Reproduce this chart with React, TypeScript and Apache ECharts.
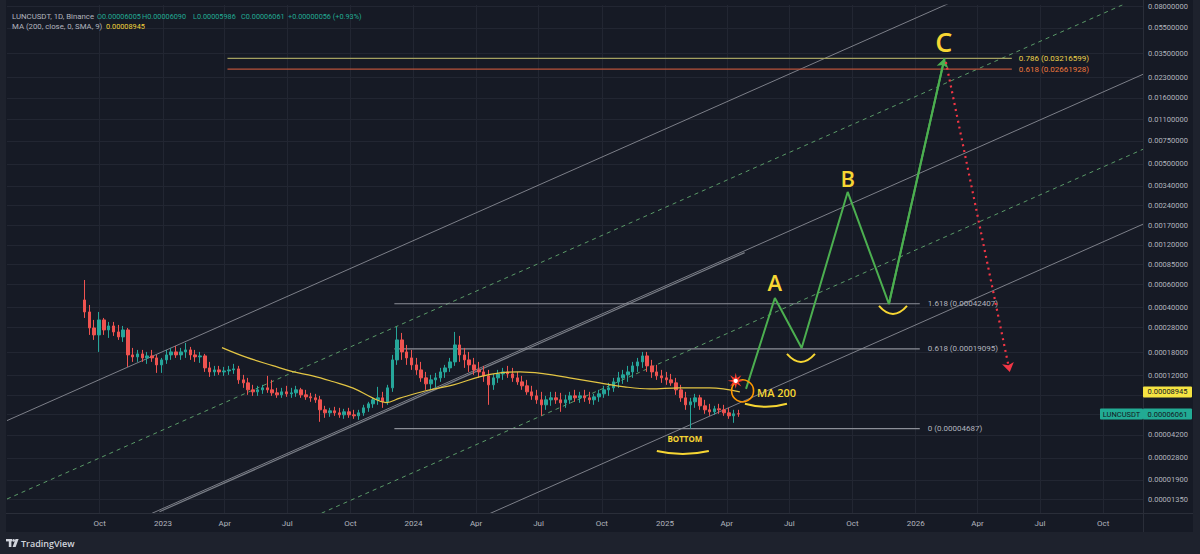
import { useEffect, useRef } from 'react';
import * as echarts from 'echarts';

// ---------- data ----------
const T = (s: string) => Date.parse(s + 'T00:00:00Z');
const DAY = 86400000;

// Weekly candles (one per 7 days from FIRST_CANDLE), prices in 1e-8 USDT: [open, close, low, high]
const UNIT = 1e-8;
const FIRST_CANDLE = '2022-09-09';
const CANDLE_STEP_DAYS = 7;
const weeklyCandles: number[][] = [
  [45330, 36692, 33006, 64480], [36692, 27676, 24470, 41510], [27676, 24470, 22400, 31870], [24470, 31870, 18129, 36692],
  [31870, 26720, 24470, 33006], [26720, 28670, 23209, 30765], [28670, 25794, 24042, 30765], [25794, 23622, 22400, 29180],
  [23622, 26720, 21624, 28670], [26720, 17200, 13920, 27676], [17200, 16604, 15204, 19453], [16604, 17500, 15204, 18780],
  [17500, 16313, 15204, 18780], [16313, 16899, 14677, 18129], [16899, 16313, 15204, 18780], [16313, 14420, 12520, 17200],
  [14420, 15750, 12520, 16313], [15750, 17200, 14677, 18780], [17200, 18129, 15750, 19453], [18129, 17200, 16313, 20151],
  [17200, 18129, 15750, 19453], [18129, 18780, 16313, 21245], [18780, 17200, 15750, 19799], [17200, 16604, 15204, 18780],
  [16604, 16899, 14938, 18129], [16899, 13677, 12742, 17500], [13677, 12742, 11671, 15204], [12742, 13200, 11879, 14168],
  [13200, 12742, 12090, 14168], [12742, 12969, 11879, 13920], [12969, 13200, 12090, 14168], [13200, 13438, 12301, 14677],
  [13438, 11070, 10316, 14168], [11070, 10499, 9617, 12090], [10499, 9283, 8500, 11467], [9283, 8961, 8351, 10140],
  [8961, 9283, 8351, 9963], [9283, 9617, 8650, 10140], [9617, 9283, 8804, 11879], [9283, 8804, 8351, 11070],
  [8804, 8500, 8062, 9617], [8500, 8961, 8062, 9617], [8961, 8650, 8205, 9963], [8650, 8804, 8062, 9617],
  [8804, 9283, 8205, 9963], [9283, 8500, 8062, 9617], [8500, 8205, 7783, 9283], [8205, 8062, 7513, 8804],
  [8062, 7783, 7382, 8650], [7783, 6526, 5281, 8351], [6526, 6190, 5667, 7002], [6190, 6412, 5768, 6759],
  [6412, 6190, 5870, 6880], [6190, 5975, 5667, 6759], [5975, 6300, 5568, 6641], [6300, 5975, 5667, 6759],
  [5975, 5870, 5568, 6526], [5870, 6190, 5471, 6526], [6190, 6759, 5870, 7127], [6759, 7253, 6300, 7513],
  [7253, 7783, 6759, 8062], [7783, 8062, 7127, 9788], [8062, 7513, 6759, 8961], [7513, 9617, 7127, 10140],
  [9617, 15750, 8961, 17200], [15750, 22400, 14420, 28169], [22400, 18129, 15750, 25343], [18129, 16313, 14420, 20510],
  [16313, 14420, 13200, 18780], [14420, 13200, 12090, 16313], [13200, 11467, 10686, 15204], [11467, 10316, 9283, 12742],
  [10316, 11070, 9283, 12090], [11070, 11467, 9617, 12520], [11467, 12742, 10686, 13677], [12742, 13677, 11467, 14420],
  [13677, 15204, 12742, 16313], [15204, 20510, 14168, 25794], [20510, 17200, 15204, 24042], [17200, 15750, 13677, 19453],
  [15750, 14420, 12742, 18129], [14420, 13200, 12090, 16313], [13200, 12742, 11467, 15204], [12742, 11879, 10686, 14168],
  [11879, 10140, 7127, 13200], [10140, 11467, 9283, 12301], [11467, 12301, 10499, 13200], [12301, 12742, 11070, 13677],
  [12742, 12301, 11467, 14168], [12301, 11467, 10686, 13677], [11467, 10686, 10140, 12742], [10686, 9963, 9283, 11879],
  [9963, 8961, 8500, 11070], [8961, 8351, 7783, 9963], [8351, 7783, 7253, 9283], [7783, 7127, 5870, 8961],
  [7127, 7783, 6526, 8351], [7783, 8062, 7002, 8961], [8062, 7783, 7253, 8961], [7783, 7382, 6300, 8804],
  [7382, 7783, 6759, 8500], [7783, 8351, 7253, 8961], [8351, 8062, 7513, 9283], [8062, 8351, 7382, 8961],
  [8351, 8062, 7513, 9283], [8062, 7783, 7253, 8961], [7783, 8205, 7127, 8650], [8205, 8650, 7513, 9283],
  [8650, 9283, 8062, 9963], [9283, 9617, 8351, 10499], [9617, 10686, 8961, 11467], [10686, 11467, 9617, 12742],
  [11467, 12090, 10316, 13200], [12090, 12742, 10686, 14168], [12742, 14168, 11467, 15204], [14168, 15204, 12742, 16313],
  [15204, 16899, 13677, 18129], [16899, 14168, 12742, 18129], [14168, 12742, 11467, 15750], [12742, 11879, 11070, 14420],
  [11879, 11467, 10499, 13200], [11467, 11070, 10140, 12742], [11070, 10499, 9963, 12301], [10499, 9283, 8500, 11467],
  [9283, 8062, 7513, 10140], [8062, 7127, 6526, 8961], [7127, 7513, 4687, 8062], [7513, 8062, 6759, 8650],
  [8062, 7002, 6526, 8500], [7002, 6526, 6081, 7783], [6526, 6300, 5870, 7253], [6300, 6641, 5975, 7002],
  [6641, 6526, 6081, 7253], [6526, 6190, 5870, 7127], [6190, 5870, 5568, 6759], [5870, 6081, 5189, 6526],
  [6081, 6061, 5768, 6526],
];

const LAST_PRICE = 0.00006061;
const MA_LAST = 0.00008945;

// MA(200) line
const maDates = ['2023-03-28', '2023-05-02', '2023-06-10', '2023-07-09', '2023-08-07', '2023-09-05', '2023-10-05',
  '2023-11-03', '2023-11-22', '2023-12-12', '2024-01-20', '2024-02-28', '2024-04-07', '2024-05-06', '2024-06-04',
  '2024-07-10', '2024-08-15', '2024-09-28', '2024-11-03', '2024-12-10', '2025-01-22', '2025-03-07', '2025-04-20'];
const maValues = [0.0001955, 0.0001652, 0.0001424, 0.0001281, 0.0001188, 0.0001075, 0.00009565, 0.0000802,
  0.0000742, 0.0000802, 0.0000917, 0.0001014, 0.0001173, 0.0001252, 0.0001274, 0.0001230, 0.0001147, 0.0001050,
  0.0000979, 0.0000945, 0.0000962, 0.0000962, 0.00008945];

// axes
const X_MIN = '2022-05-19';
const X_MAX = '2026-11-28';
const Y_MIN = 0.00001057;
const Y_MAX = 0.0825;
const xTicks = ['2022-10-01', '2023-01-01', '2023-04-01', '2023-07-01', '2023-10-01', '2024-01-01', '2024-04-01',
  '2024-07-01', '2024-10-01', '2025-01-01', '2025-04-01', '2025-07-01', '2025-10-01', '2026-01-01', '2026-04-01',
  '2026-07-01', '2026-10-01'];
const yTickLabels = [0.08, 0.055, 0.035, 0.023, 0.016, 0.011, 0.0075, 0.005, 0.0034, 0.0024, 0.0017, 0.0012,
  0.00085, 0.0006, 0.0004, 0.00028, 0.00018, 0.00012, 0.000042, 0.000028, 0.000019, 0.0000135];
const yGridValues = [...yTickLabels, 0.000085, 0.00006];

// channel (parallel lines) at the chart's left and right edges
const channelDates = [X_MIN, X_MAX];
const channelSolid = [[0.00005395, 0.3871], [0.000003386, 0.02429], [0.0000002404, 0.001726]];
const channelDashed = [[0.00001353, 0.09707], [0.0000009016, 0.006471]];
const trendDates = ['2022-12-27', '2025-04-27'];
const trendPrices = [0.00001081, 0.001045];

// fibonacci levels
const lowerFibDates = ['2023-12-04', '2026-01-07'];
const lowerFibLevels = [0.00004687, 0.00019095, 0.00042407];
const lowerFibNames = ['0', '0.618', '1.618'];
const upperFibDates = ['2023-04-05', '2026-05-21'];
const upperFibLevels = [0.03216599, 0.02661928];
const upperFibNames = ['0.786', '0.618'];

// projected path A-B-C and the red drop
const greenPathDates = ['2025-04-29', '2025-06-10', '2025-07-19', '2025-09-24', '2025-11-23', '2026-02-12'];
const greenPathPrices = [0.00009449, 0.00046948, 0.00019453, 0.003047, 0.00042241, 0.0322];
const redDropDates = ['2026-02-14', '2026-05-18'];
const redDropPrices = [0.0302, 0.0001274];

// hand-drawn annotations
const annotationDates = ['2025-07-18', '2025-11-29', '2025-05-28', '2025-01-27', '2025-04-24', '2025-04-14',
  '2025-05-15', '2025-01-30', '2025-06-10', '2025-09-24', '2026-02-11'];
const annotationPrices = [0.000175, 0.00040784, 0.00007253, 0.00003155, 0.00009121, 0.00010876, 0.00008804,
  0.00003969, 0.0006223, 0.003899, 0.04296];
const annotationKinds = ['dip', 'dip', 'underMA', 'underBottom', 'circle', 'star', 'textMA', 'textBottom', 'wave', 'wave', 'waveBig'];
const annotationTexts = ['', '', '', '', '', '', 'MA 200', 'BOTTOM', 'A', 'B', 'C'];

// ---------- styling ----------
const PANE = '#161a25';
const OUTER = '#1e222d';
const GRID = '#222632';
const AXIS_TXT = '#b2b5be';
const YELLOW = '#f7d633';
const FONT = 'Roboto';
const MONTHS = ['Jan', 'Feb', 'Mar', 'Apr', 'May', 'Jun', 'Jul', 'Aug', 'Sep', 'Oct', 'Nov', 'Dec'];

function buildOption() {
  const t0 = T(FIRST_CANDLE);
  const candles = weeklyCandles.map((c, i) => [t0 + i * CANDLE_STEP_DAYS * DAY, c[0] * UNIT, c[1] * UNIT, c[2] * UNIT, c[3] * UNIT]);
  const series: any[] = [];

  channelSolid.forEach((pair) => {
    series.push({
      type: 'line', silent: true, showSymbol: false, z: 1,
      data: channelDates.map((d, i) => [T(d), pair[i]]),
      lineStyle: { color: '#8e919a', width: 1, opacity: 0.85 },
    });
  });
  series.push({
    type: 'line', silent: true, showSymbol: false, z: 1,
    data: trendDates.map((d, i) => [T(d), trendPrices[i]]),
    lineStyle: { color: '#9a9da6', width: 1.2, opacity: 0.75 },
  });
  channelDashed.forEach((pair) => {
    series.push({
      type: 'line', silent: true, showSymbol: false, z: 1,
      data: channelDates.map((d, i) => [T(d), pair[i]]),
      lineStyle: { color: '#5a9a68', width: 1, type: [4, 4] },
    });
  });
  lowerFibLevels.forEach((lv, k) => {
    series.push({
      type: 'line', silent: true, showSymbol: false, z: 2,
      data: lowerFibDates.map((d) => [T(d), lv]),
      lineStyle: { color: '#8c8f98', width: 1.2 },
      endLabel: {
        show: true, formatter: `${lowerFibNames[k]} (${lv.toFixed(8)})`, color: '#b2b5be',
        fontSize: 8, fontFamily: FONT, distance: 8,
      },
    });
  });
  const upperLine = ['#a3a060', '#b9533b'];
  const upperText = ['#ebd24a', '#f0793d'];
  upperFibLevels.forEach((lv, k) => {
    series.push({
      type: 'line', silent: true, showSymbol: false, z: 2,
      data: upperFibDates.map((d) => [T(d), lv]),
      lineStyle: { color: upperLine[k], width: 1.2 },
      endLabel: {
        show: true, formatter: `${upperFibNames[k]} (${lv.toFixed(8)})`, color: upperText[k],
        fontSize: 8, fontFamily: FONT, distance: 7,
      },
    });
  });

  series.push({
    type: 'candlestick', z: 3,
    data: candles,
    dimensions: ['date', 'open', 'close', 'lowest', 'highest'],
    encode: { x: 'date', y: ['open', 'close', 'lowest', 'highest'] },
    barWidth: 3,
    itemStyle: { color: '#26a69a', color0: '#ef5350', borderColor: '#26a69a', borderColor0: '#ef5350', borderWidth: 1 },
    markLine: {
      silent: true, symbol: 'none', label: { show: false },
      lineStyle: { color: '#2f8f80', type: [1, 2], width: 1 },
      data: [{ yAxis: LAST_PRICE }],
    },
  });

  series.push({
    type: 'line', silent: true, showSymbol: false, smooth: 0.4, z: 4,
    data: maDates.map((d, i) => [T(d), maValues[i]]),
    lineStyle: { color: '#e3c544', width: 1.2 },
  });

  series.push({
    type: 'line', silent: true, showSymbol: false, z: 6,
    data: greenPathDates.map((d, i) => [T(d), greenPathPrices[i]]),
    lineStyle: { color: '#4caf50', width: 2 },
  });
  const n = greenPathDates.length;
  series.push({
    type: 'lines', coordinateSystem: 'cartesian2d', silent: true, z: 6,
    symbol: ['none', 'arrow'], symbolSize: 9,
    lineStyle: { color: '#4caf50', width: 2, opacity: 1 },
    data: [{ coords: [[T(greenPathDates[n - 2]), greenPathPrices[n - 2]], [T(greenPathDates[n - 1]), greenPathPrices[n - 1]]] }],
  });
  series.push({
    type: 'lines', coordinateSystem: 'cartesian2d', silent: true, z: 6,
    symbol: ['none', 'arrow'], symbolSize: 9,
    lineStyle: { color: '#f23645', width: 2.2, type: [2, 4], opacity: 1 },
    data: [{ coords: redDropDates.map((d, i) => [T(d), redDropPrices[i]]) }],
  });

  const bez = (x: number, y: number, w: number, d: number) => ({
    type: 'bezierCurve',
    shape: { x1: x - w / 2, y1: y, x2: x + w / 2, y2: y, cpx1: x, cpy1: y + 2 * d },
    style: { stroke: YELLOW, lineWidth: 2, fill: 'none' },
  });
  series.push({
    type: 'custom', silent: true, z: 10, clip: false,
    data: annotationDates.map((d, i) => [T(d), annotationPrices[i]]),
    encode: { x: 0, y: 1 },
    renderItem: (params: any, api: any) => {
      const i = params.dataIndex;
      const [x, y] = api.coord([api.value(0), api.value(1)]);
      const kind = annotationKinds[i];
      const text = annotationTexts[i];
      if (kind === 'dip') return bez(x, y, 28, 8);
      if (kind === 'underMA') return bez(x, y, 42, 3);
      if (kind === 'underBottom') return bez(x, y, 52, 3);
      if (kind === 'circle') {
        return { type: 'circle', shape: { cx: x, cy: y, r: 11 }, style: { fill: 'none', stroke: '#ff9800', lineWidth: 1.6 } };
      }
      if (kind === 'star') {
        const pts: number[][] = [];
        for (let k = 0; k < 16; k++) {
          const r = k % 2 === 0 ? 8 : 3;
          const a = (Math.PI * k) / 8;
          pts.push([x + r * Math.cos(a), y + r * Math.sin(a)]);
        }
        return {
          type: 'group',
          children: [
            { type: 'polygon', shape: { points: pts }, style: { fill: '#ff3d2e' } },
            { type: 'circle', shape: { cx: x, cy: y, r: 2.2 }, style: { fill: '#ffffff' } },
          ],
        };
      }
      if (kind === 'textMA') {
        return { type: 'text', x, y, style: { text, fill: YELLOW, fontSize: 11, fontWeight: 600, fontFamily: 'Open Sans', align: 'left', verticalAlign: 'middle' } };
      }
      if (kind === 'textBottom') {
        return { type: 'text', x, y, style: { text, fill: YELLOW, fontSize: 8, fontWeight: 700, fontFamily: 'Open Sans', align: 'center', verticalAlign: 'middle' } };
      }
      const big = kind === 'waveBig';
      return { type: 'text', x, y, style: { text, fill: YELLOW, fontSize: big ? 27 : 22, fontWeight: 600, fontFamily: 'Open Sans', align: 'center', verticalAlign: 'middle' } };
    },
  });

  return {
    animation: false,
    backgroundColor: PANE,
    grid: { left: 7, right: 57, top: 5, bottom: 41, containLabel: false, show: false },
    tooltip: { show: false },
    xAxis: {
      type: 'value', min: T(X_MIN), max: T(X_MAX),
      axisLine: { show: false },
      axisTick: { show: false, customValues: xTicks.map(T) },
      axisLabel: {
        customValues: xTicks.map(T), color: AXIS_TXT, fontSize: 8, fontFamily: FONT, margin: 6,
        formatter: (v: number) => {
          const d = new Date(v);
          return d.getUTCMonth() === 0 ? String(d.getUTCFullYear()) : MONTHS[d.getUTCMonth()];
        },
      },
      splitLine: { show: true, lineStyle: { color: GRID, width: 1 } },
    },
    yAxis: {
      type: 'log', logBase: 10, position: 'right', min: Y_MIN, max: Y_MAX,
      axisLine: { show: false },
      axisTick: { show: false, customValues: yGridValues },
      axisLabel: {
        customValues: yTickLabels, color: AXIS_TXT, fontSize: 7.5, fontFamily: FONT, margin: 5,
        formatter: (v: number) => v.toFixed(8),
      },
      splitLine: { show: true, lineStyle: { color: GRID, width: 1 } },
      minorSplitLine: { show: false },
    },
    series,
  };
}

function overlayGraphics(yLast: number, yMa: number) {
  const g: any[] = [];
  g.push({ type: 'rect', shape: { x: 0, y: 532, width: 1200, height: 22 }, style: { fill: OUTER }, z: 50 });
  g.push({ type: 'rect', shape: { x: 0, y: 0, width: 6, height: 554 }, style: { fill: OUTER }, z: 50 });
  g.push({ type: 'rect', shape: { x: 1193, y: 0, width: 7, height: 554 }, style: { fill: OUTER }, z: 50 });
  g.push({ type: 'rect', shape: { x: 1144, y: 0, width: 49, height: 3 }, style: { fill: PANE }, z: 45 });
  g.push({ type: 'line', shape: { x1: 1143.5, y1: 0, x2: 1143.5, y2: 532 }, style: { stroke: '#2a2e39', lineWidth: 1 }, z: 40 });
  g.push({ type: 'line', shape: { x1: 6, y1: 513.5, x2: 1193, y2: 513.5 }, style: { stroke: '#2a2e39', lineWidth: 1 }, z: 40 });
  const hdr = (x: number, y: number, text: string, fill: string, size: number) =>
    g.push({ type: 'text', x, y, style: { text, fill, fontSize: size, fontFamily: FONT, verticalAlign: 'middle' }, z: 60 });
  hdr(12, 16, 'LUNCUSDT, 1D, Binance', AXIS_TXT, 7.8);
  hdr(97, 16, 'O0.00006005', '#22ab94', 7.3);
  hdr(142, 16, 'H0.00006090', '#22ab94', 7.3);
  hdr(193, 16, 'L0.00005986', '#22ab94', 7.3);
  hdr(241, 16, 'C0.00006061', '#22ab94', 7.3);
  hdr(288, 16, '+0.00000056 (+0.93%)', '#22ab94', 7.3);
  hdr(12, 26, 'MA (200, close, 0, SMA, 9)', AXIS_TXT, 7.8);
  hdr(106, 26, MA_LAST.toFixed(8), '#f0d33a', 7.3);
  g.push({ type: 'rect', shape: { x: 1143, y: yMa - 5.5, width: 49, height: 11, r: 1 }, style: { fill: '#f5e342' }, z: 60 });
  g.push({ type: 'text', x: 1167.5, y: yMa, style: { text: MA_LAST.toFixed(8), fill: '#131722', fontSize: 7.5, fontFamily: FONT, align: 'center', verticalAlign: 'middle' }, z: 61 });
  g.push({ type: 'rect', shape: { x: 1100, y: yLast - 5.5, width: 43, height: 11, r: 1 }, style: { fill: '#22ab94' }, z: 60 });
  g.push({ type: 'text', x: 1121.5, y: yLast, style: { text: 'LUNCUSDT', fill: '#131722', fontSize: 7.5, fontFamily: FONT, align: 'center', verticalAlign: 'middle' }, z: 61 });
  g.push({ type: 'rect', shape: { x: 1143, y: yLast - 5.5, width: 49, height: 11, r: 1 }, style: { fill: '#22ab94' }, z: 60 });
  g.push({ type: 'text', x: 1167.5, y: yLast, style: { text: LAST_PRICE.toFixed(8), fill: '#131722', fontSize: 7.5, fontFamily: FONT, align: 'center', verticalAlign: 'middle' }, z: 61 });
  g.push({ type: 'rect', shape: { x: 6, y: 539, width: 6, height: 2.4 }, style: { fill: '#d1d4dc' }, z: 60 });
  g.push({ type: 'rect', shape: { x: 8.8, y: 539, width: 2.6, height: 8 }, style: { fill: '#d1d4dc' }, z: 60 });
  g.push({ type: 'circle', shape: { cx: 13.6, cy: 540.4, r: 1.4 }, style: { fill: '#d1d4dc' }, z: 60 });
  g.push({ type: 'polygon', shape: { points: [[15.5, 539], [18.6, 539], [15.6, 547], [12.6, 547]] }, style: { fill: '#d1d4dc' }, z: 60 });
  g.push({ type: 'text', x: 21, y: 543, style: { text: 'TradingView', fill: '#d1d4dc', fontSize: 9, fontWeight: 600, fontFamily: 'Open Sans', verticalAlign: 'middle' }, z: 60 });
  return g;
}

export default function App() {
  const ref = useRef<HTMLDivElement>(null);
  useEffect(() => {
    if (!ref.current) return;
    const chart = echarts.init(ref.current, undefined, { renderer: 'svg' });
    const option: any = buildOption();
    chart.setOption(option);
    const yLast = chart.convertToPixel({ yAxisIndex: 0 }, LAST_PRICE) as number;
    const yMa = chart.convertToPixel({ yAxisIndex: 0 }, MA_LAST) as number;
    chart.setOption({ graphic: overlayGraphics(yLast, yMa) });
    return () => chart.dispose();
  }, []);
  return (
    <div style={{ position: 'fixed', left: 0, top: 0, width: 1200, height: 554, background: OUTER }}>
      <div ref={ref} style={{ width: 1200, height: 554 }} />
    </div>
  );
}
